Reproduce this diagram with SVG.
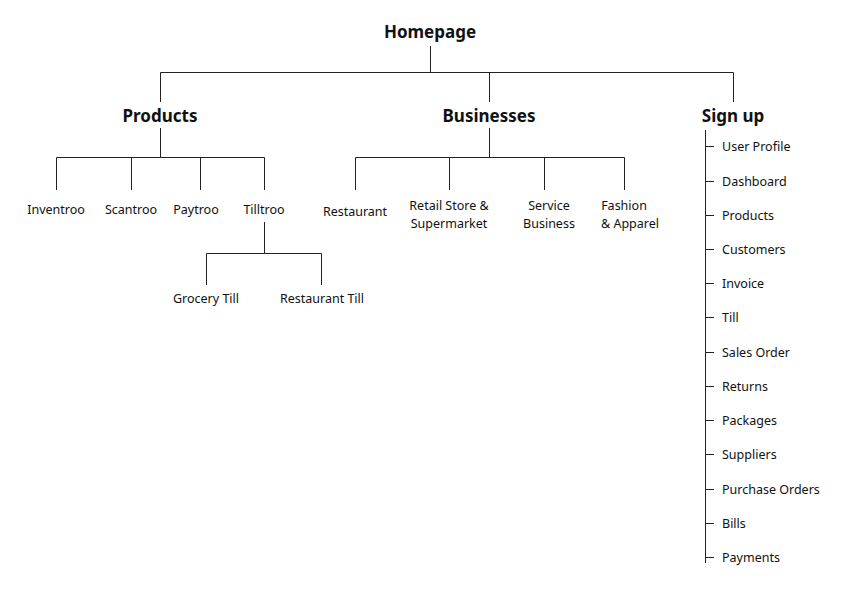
<svg xmlns="http://www.w3.org/2000/svg" width="850" height="590" viewBox="0 0 850 590">
<style>
text{font-family:"Noto Sans","DejaVu Sans",sans-serif;fill:#111;}
.h{font-size:17px;font-weight:bold;text-anchor:middle;}
.n{font-size:12.5px;text-anchor:middle;}
.s{font-size:12.5px;}
#conn path{stroke:#222;stroke-width:1;fill:none;}
</style>
<rect width="850" height="590" fill="#fff"/>
<g id="conn">
<path d="M430.5 46V72.5M160.5 72.5H733.5M160.5 72.5V102M489.5 72.5V102M733.5 72.5V102"/>
<path d="M160.5 128V157.5M56.5 157.5H264.5M56.5 157.5V190M131.5 157.5V190M200.5 157.5V190M264.5 157.5V190"/>
<path d="M264.5 222V253.5M206.5 253.5H321.5M206.5 253.5V285M321.5 253.5V285"/>
<path d="M489.5 128V157.5M355.5 157.5H624.5M355.5 157.5V190M449.5 157.5V190M544.5 157.5V190M624.5 157.5V190"/>
<path d="M705.5 130V563M705 146.5H714M705 181.5H714M705 215.5H714M705 249.5H714M705 283.5H714M705 317.5H714M705 352.5H714M705 386.5H714M705 420.5H714M705 454.5H714M705 489.5H714M705 523.5H714M705 557.5H714"/>
</g>
<g id="homepage"><text class="h" x="430" y="38">Homepage</text></g>
<g id="products"><text class="h" x="160" y="122">Products</text></g>
<g id="businesses"><text class="h" x="489" y="122">Businesses</text></g>
<g id="signup"><text class="h" x="733" y="122">Sign up</text></g>
<g id="inventroo"><text class="n" x="56" y="214">Inventroo</text></g>
<g id="scantroo"><text class="n" x="131" y="214">Scantroo</text></g>
<g id="paytroo"><text class="n" x="196" y="214">Paytroo</text></g>
<g id="tilltroo"><text class="n" x="264" y="214">Tilltroo</text></g>
<g id="grocery"><text class="n" x="206" y="303">Grocery Till</text></g>
<g id="restauranttill"><text class="n" x="322" y="303">Restaurant Till</text></g>
<g id="restaurant"><text class="n" x="355" y="216">Restaurant</text></g>
<g id="retail"><text class="n" x="449" y="210">Retail Store &amp;</text><text class="n" x="449" y="228">Supermarket</text></g>
<g id="service"><text class="n" x="549" y="210">Service</text><text class="n" x="549" y="228">Business</text></g>
<g id="fashion"><text class="n" x="624" y="210">Fashion</text><text class="n" x="630" y="228">&amp; Apparel</text></g>
<g id="signup-items">
<text class="s" x="722" y="151">User Profile</text>
<text class="s" x="722" y="186">Dashboard</text>
<text class="s" x="722" y="220">Products</text>
<text class="s" x="722" y="254">Customers</text>
<text class="s" x="722" y="288">Invoice</text>
<text class="s" x="722" y="322">Till</text>
<text class="s" x="722" y="357">Sales Order</text>
<text class="s" x="722" y="391">Returns</text>
<text class="s" x="722" y="425">Packages</text>
<text class="s" x="722" y="459">Suppliers</text>
<text class="s" x="722" y="494">Purchase Orders</text>
<text class="s" x="722" y="528">Bills</text>
<text class="s" x="722" y="562">Payments</text>
</g>
</svg>
